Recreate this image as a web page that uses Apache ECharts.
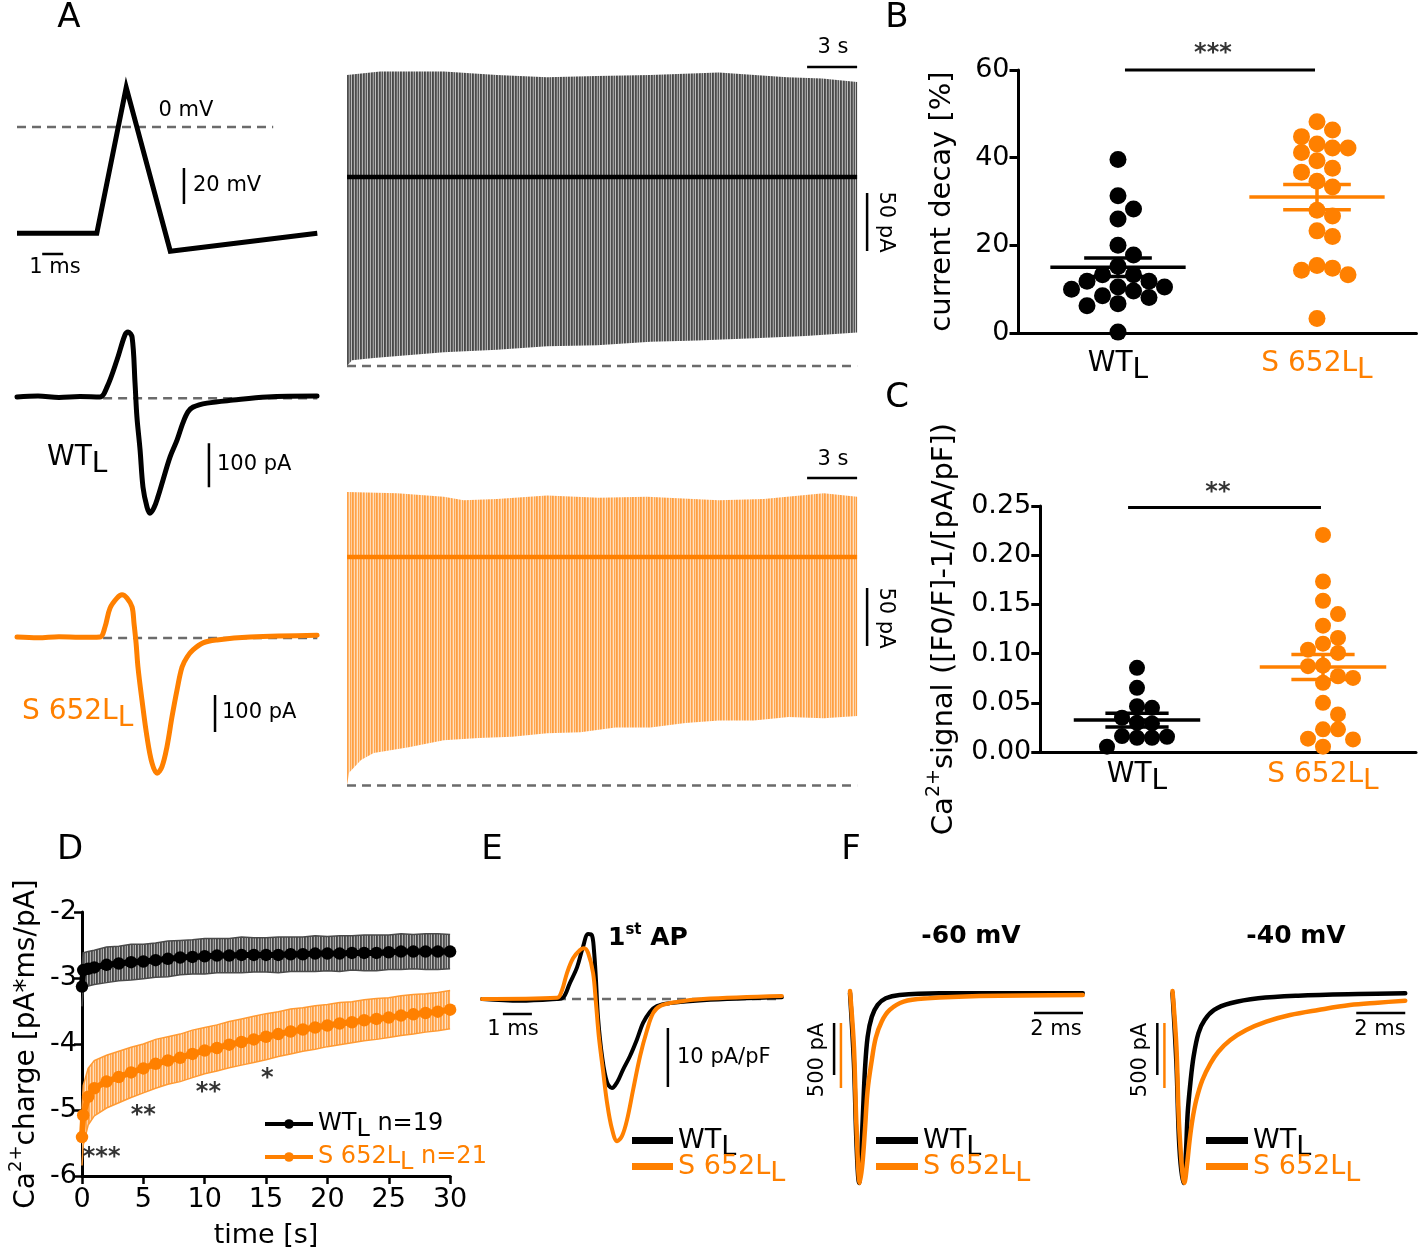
<!DOCTYPE html>
<html><head><meta charset="utf-8">
<script src="https://cdn.jsdelivr.net/npm/echarts@6.0.0/dist/echarts.min.js"></script>
<style>html,body{margin:0;padding:0;background:#fff}#c{width:1418px;height:1254px}</style>
</head><body><div id="c"></div>
<script>
const ORANGE = '#ff8000', BLACK = '#000000', DASH = '#6b6b6b';
const FONT = 'DejaVu Sans';

// ---------- Panel A : AP command (ms, mV) ----------
const apTime = [0, 3.8, 5.2, 7.3, 14.3];
const apVolt = [-59, -59, 22, -69, -59];
const apZeroLine = [[0, 0], [12.2, 0]];
const apScaleBars = [[[7.95, -22.8], [7.95, -42.8]], [[1.2, -70.6], [2.2, -70.6]]];

// ---------- Panel A : single AP currents (ms, pA) ----------
const wtCurTime = [0, 1, 2, 3, 3.95, 4.29, 4.76, 5.14, 5.29, 5.48, 5.62, 5.71, 5.86, 6.0, 6.19, 6.33, 6.52, 6.71, 6.95, 7.29, 7.62, 7.9, 8.14, 8.38, 9.05, 10.29, 11.9, 14.29];
const wtCurVal  = [0, 2, -1, 1, 0, 23, 84, 141, 148, 136, 32, -45, -120, -205, -250, -264, -252, -227, -189, -136, -98, -59, -34, -23, -14, -7, 0, 2];
const sCurTime = [0, 1, 2, 3, 3.95, 4.19, 4.43, 4.76, 5.0, 5.24, 5.48, 5.57, 5.67, 5.76, 5.95, 6.19, 6.43, 6.67, 6.9, 7.14, 7.38, 7.62, 7.86, 8.1, 8.38, 8.86, 9.52, 11.1, 14.29];
const sCurVal  = [0, -2, 1, -1, 0, 27, 78, 105, 114, 105, 81, 38, -16, -81, -170, -270, -341, -368, -351, -297, -216, -143, -81, -54, -35, -16, -8, 0, 5];
const curBaseline = [[4.1, -3], [14.3, -3]];
const wtCurBar = [[9.14, -105], [9.14, -205]];
const sCurBar = [[9.43, -157], [9.43, -257]];

// ---------- Panel A : 30 s trains (s, pA) ----------
const trainSpan = [0, 30.6];
const blackTopT = [0, 2, 5.8, 9, 12, 15, 18.2, 22.3, 26.4, 28.5, 30.6];
const blackTopV = [88, 91, 91, 88, 86, 87, 88, 90, 86, 85, 82];
const blackBotT = [0, 0.3, 1.6, 5.8, 9, 12, 15, 18.2, 21, 24.4, 27.5, 30.6];
const blackBotV = [-163, -158, -156, -151, -149, -146, -145, -142, -141, -139, -137, -134];
const blackPeakLine = -163;
const orangeTopT = [0, 3, 5.8, 7, 9, 12, 15.1, 18, 22.3, 25, 28.6, 30.6];
const orangeTopV = [56, 55, 52, 49, 50, 53, 51, 52, 49, 50, 55, 52];
const orangeBotT = [0, 0.12, 0.84, 1.6, 3.7, 5.8, 7.9, 9.9, 12, 14, 16.1, 18.2, 20.3, 22.3, 24.4, 26.5, 28.6, 30.6];
const orangeBotV = [-197, -186, -175, -169, -164, -158, -156, -155, -152, -151, -147, -147, -143, -141, -141, -138, -139, -137];
const orangePeakLine = -197;
const blackTrainBars = [[[27.6, 94.8], [30.6, 94.8]], [[31.2, -13.8], [31.2, -63.8]]];
const orangeTrainBars = [[[27.6, 68.1], [30.6, 68.1]], [[31.2, -26.7], [31.2, -76.7]]];

// ---------- Panel B : current decay [%] ----------
const groups = ['WT', 'S652L'];
const decayWT = [39.6, 31.3, 28.3, 26.0, 20.0, 17.8, 15.2, 13.3, 13.3, 11.8, 11.8, 10.5, 10.0, 10.5, 8.5, 8.1, 9.6, 6.7, 6.2, 0.2];
const decayS = [48.2, 46.3, 44.8, 43.1, 42.2, 41.2, 42.2, 39.3, 37.6, 36.7, 34.6, 33.3, 28.0, 26.7, 23.3, 22.0, 15.4, 14.3, 14.8, 13.3, 3.3];
const decayMean = [15.0, 31.0];
const decaySem = [2.1, 2.9];
const decaySig = [[1.035, 60], [1.99, 60]];

// ---------- Panel C : Ca2+ signal ----------
const caWT = [0.0855, 0.0652, 0.0449, 0.0466, 0.0297, 0.0348, 0.0290, 0.0162, 0.0145, 0.0145, 0.0155, 0.0054];
const caS = [0.2206, 0.1733, 0.1537, 0.1402, 0.1284, 0.1159, 0.1040, 0.1007, 0.1101, 0.0872, 0.0878, 0.0753, 0.0703, 0.0770, 0.0500, 0.0382, 0.0230, 0.0230, 0.0135, 0.0128, 0.0054];
const caMean = [0.0324, 0.0865];
const caSem = [0.0071, 0.0127];
const caSig = [[0.952, 0.2485], [1.989, 0.2485]];

// ---------- Panel D : Ca2+ charge over time ----------
const dTime = [0, 0.1, 0.5, 1, 2, 3, 4, 5, 6, 7, 8, 9, 10, 11, 12, 13, 14, 15, 16, 17, 18, 19, 20, 21, 22, 23, 24, 25, 26, 27, 28, 29, 30];
const dWTMean = [-3.13, -2.88, -2.86, -2.84, -2.80, -2.78, -2.76, -2.75, -2.73, -2.71, -2.69, -2.68, -2.67, -2.66, -2.66, -2.65, -2.65, -2.65, -2.65, -2.64, -2.64, -2.63, -2.63, -2.63, -2.62, -2.62, -2.62, -2.61, -2.60, -2.60, -2.60, -2.60, -2.60];
const dWTSem  = [0.30, 0.26, 0.26, 0.26, 0.27, 0.26, 0.27, 0.26, 0.26, 0.27, 0.26, 0.26, 0.27, 0.26, 0.26, 0.27, 0.26, 0.26, 0.27, 0.26, 0.26, 0.27, 0.26, 0.27, 0.26, 0.27, 0.27, 0.26, 0.27, 0.26, 0.27, 0.27, 0.26];
const dSMean = [-5.41, -5.08, -4.80, -4.67, -4.57, -4.50, -4.43, -4.37, -4.30, -4.25, -4.21, -4.15, -4.10, -4.06, -4.01, -3.97, -3.93, -3.89, -3.85, -3.81, -3.78, -3.75, -3.72, -3.69, -3.67, -3.64, -3.62, -3.60, -3.57, -3.55, -3.53, -3.51, -3.48];
const dSSem  = [0.43, 0.45, 0.43, 0.42, 0.40, 0.39, 0.38, 0.37, 0.37, 0.36, 0.36, 0.36, 0.35, 0.35, 0.35, 0.35, 0.35, 0.35, 0.34, 0.34, 0.33, 0.33, 0.32, 0.32, 0.31, 0.31, 0.31, 0.30, 0.30, 0.30, 0.29, 0.29, 0.29];
const dStarT = [1.6, 5.0, 10.3, 15.1];
const dStarV = [-5.73, -5.08, -4.74, -4.53];
const dStarText = ['***', '**', '**', '*'];

// ---------- Panel E : 1st AP current density (ms, pA/pF) ----------
const eTimeWT = [0, 1.31, 2.58, 2.79, 3.03, 3.28, 3.48, 3.66, 3.79, 3.86, 3.93, 4.0, 4.14, 4.31, 4.48, 4.66, 4.86, 5.1, 5.34, 5.55, 5.79, 6.03, 6.48, 7.62, 10.34];
const eCurWT  = [0, -0.3, 0, 0.2, 2.7, 5.4, 8.8, 11.0, 10.8, 8.3, 3.2, -3.1, -9.7, -14.1, -15.1, -14.1, -12.0, -9.7, -6.9, -4.1, -2.2, -1.2, -0.7, -0.2, 0.3];
const eTimeS = [0, 2.59, 2.76, 2.93, 3.14, 3.38, 3.52, 3.66, 3.83, 3.93, 4.03, 4.17, 4.31, 4.48, 4.66, 4.83, 5.0, 5.21, 5.45, 5.69, 5.9, 6.14, 6.72, 7.62, 10.34];
const eCurS  = [0, 0.2, 1.5, 4.4, 6.9, 8.3, 8.6, 7.8, 4.4, -0.7, -6.4, -12.0, -17.5, -22.0, -24.1, -23.2, -20.5, -15.4, -9.7, -5.3, -2.4, -1.2, -0.5, 0, 0.5];
const eBaseline = [[0, 0], [10.34, 0]];
const eScaleBars = [[[0.72, -2.54], [1.72, -2.54]], [[6.41, -4.9], [6.41, -14.9]]];

// ---------- Panel F : tail currents (ms, pA) ----------
const f60TimeWT = [0, 0.16, 0.27, 0.37, 0.45, 0.53, 0.61, 0.72, 0.89, 1.13, 1.46, 2.02, 3.65, 6.08, 9.5];
const f60CurWT  = [0, -673, -1478, -1827, -1574, -1154, -740, -420, -228, -115, -51, -19, -3, -3, -3];
const f60TimeS = [0, 0.16, 0.27, 0.4, 0.51, 0.61, 0.72, 0.89, 1.05, 1.29, 1.62, 2.19, 3.16, 5.28, 9.5];
const f60CurS  = [31, -398, -1038, -1446, -1292, -1038, -731, -500, -331, -205, -115, -51, -26, -8, 0];
const f40TimeWT = [0, 0.16, 0.28, 0.44, 0.54, 0.62, 0.73, 0.86, 1.06, 1.31, 1.7, 2.36, 3.5, 5.13, 7.58, 9.5];
const f40CurWT  = [0, -676, -1478, -1827, -1574, -1154, -865, -612, -385, -260, -163, -99, -51, -26, -10, -3];
const f40TimeS = [0, 0.16, 0.28, 0.49, 0.6, 0.7, 0.81, 0.97, 1.22, 1.55, 1.87, 2.36, 3.01, 3.83, 4.8, 5.95, 7.24, 8.38, 9.5];
const f40CurS  = [31, -398, -1038, -1446, -1295, -1115, -962, -808, -654, -526, -436, -346, -269, -205, -154, -115, -77, -59, -44];
const f60WTBars = [[[-0.65, -288], [-0.65, -788]], [[7.51, -192], [9.51, -192]]];
const f60SBar = [[-0.37, -215], [-0.37, -715]];
const f40WTBars = [[[-0.62, -288], [-0.62, -788]], [[7.5, -192], [9.5, -192]]];
const f40SBar = [[-0.33, -215], [-0.33, -715]];

// =================== construction ===================
function stripes(cols) {
  const c = document.createElement('canvas'); c.width = cols.length; c.height = 8;
  const g = c.getContext('2d');
  cols.forEach((col, i) => { g.fillStyle = col; g.fillRect(i, 0, 1, 8); });
  return { type: 'pattern', image: c, repeat: 'repeat' };
}
const grayStripes = stripes(['#474747', '#5a5a5a', '#b0b0b0', '#4d4d4d', '#666666', '#9a9a9a', '#535353', '#bcbcbc']);
const orangeStripes = stripes(['#ff9f40', '#ffad5c', '#ffd9b3', '#ffa24a', '#ffb870', '#ffe2c4', '#ffa64f', '#ffcf9e']);

const grids = [], xAxes = [], yAxes = [], series = [];
function panel(x0, xppu, xmin, xmax, y0, yppu, ymin, ymax, xo, yo) {
  const gi = grids.length;
  grids.push({ left: x0 + xmin * xppu, width: (xmax - xmin) * xppu, top: y0 - ymax * yppu, height: (ymax - ymin) * yppu, containLabel: false, outerBoundsMode: 'none' });
  xAxes.push(Object.assign({ type: 'value', gridIndex: gi, min: xmin, max: xmax, show: false }, xo || {}));
  yAxes.push(Object.assign({ type: 'value', gridIndex: gi, min: ymin, max: ymax, show: false }, yo || {}));
  return { xi: xAxes.length - 1, yi: yAxes.length - 1, gi, xppu, yppu };
}
function fPanel(x0, xppu, xmin, xmax, top, height, wt0, wtppu, s0, sppu) {
  const gi = grids.length;
  grids.push({ left: x0 + xmin * xppu, width: (xmax - xmin) * xppu, top, height, containLabel: false, outerBoundsMode: 'none' });
  xAxes.push({ type: 'value', gridIndex: gi, min: xmin, max: xmax, show: false });
  yAxes.push({ type: 'value', gridIndex: gi, min: (wt0 - top - height) / wtppu, max: (wt0 - top) / wtppu, show: false });
  yAxes.push({ type: 'value', gridIndex: gi, min: (s0 - top - height) / sppu, max: (s0 - top) / sppu, show: false });
  const xi = xAxes.length - 1;
  return { wt: { xi, yi: yAxes.length - 2 }, s: { xi, yi: yAxes.length - 1 } };
}
function line(p, data, color, width, extra) {
  return Object.assign({
    type: 'line', xAxisIndex: p.xi, yAxisIndex: p.yi, data, color,
    symbol: 'none', showSymbol: false, clip: false, silent: true, animation: false,
    lineStyle: { color, width }, itemStyle: { color }, z: 3
  }, extra || {});
}
const zip = (xs, ys) => xs.map((x, i) => [x, ys[i]]);
const trace = (p, xs, ys, color, width, name) => line(p, zip(xs, ys), color, width, { name, smooth: 0.35, lineStyle: { color, width, join: 'round', cap: 'round' } });
const dashed = (p, data) => line(p, data, DASH, 2.5, { lineStyle: { color: DASH, width: 2.5, type: [9, 6] }, z: 2 });
const scaleBar = (p, pts, color) => line(p, pts, color || BLACK, 2.5, { z: 4 });

function polySeries(p, topT, topV, botT, botV, fill, edge) {
  return {
    type: 'custom', xAxisIndex: p.xi, yAxisIndex: p.yi, data: [[topT[0], topV[0]]], silent: true, z: 1, animation: false,
    renderItem: (params, api) => {
      const up = topT.map((t, i) => api.coord([t, topV[i]]));
      const dn = botT.map((t, i) => api.coord([t, botV[i]]));
      const children = [{ type: 'polygon', shape: { points: up.concat(dn.slice().reverse()) }, style: { fill: fill } }];
      if (edge) {
        children.push({ type: 'polyline', shape: { points: up }, style: { stroke: edge, lineWidth: 1.5, fill: null } });
        children.push({ type: 'polyline', shape: { points: dn }, style: { stroke: edge, lineWidth: 1.5, fill: null } });
      }
      return { type: 'group', children };
    }
  };
}
function meanSem(p, x, m, s, color) {
  return {
    type: 'custom', xAxisIndex: p.xi, yAxisIndex: p.yi, data: [[x, m, s]], silent: true, z: 5, animation: false,
    itemStyle: { color },
    renderItem: (params, api) => {
      const cx = api.value(0), mv = api.value(1), sv = api.value(2);
      const P = (a, b) => api.coord([a, b]);
      const L = (a, b) => ({ type: 'line', shape: { x1: a[0], y1: a[1], x2: b[0], y2: b[1] }, style: { stroke: color, lineWidth: 3.5 } });
      return { type: 'group', children: [
        L(P(cx - 0.34, mv), P(cx + 0.34, mv)),
        L(P(cx - 0.17, mv + sv), P(cx + 0.17, mv + sv)),
        L(P(cx - 0.17, mv - sv), P(cx + 0.17, mv - sv)),
        L(P(cx, mv - sv), P(cx, mv + sv))
      ] };
    }
  };
}
function swarm(values, center, xppu, yppu, step, minDist) {
  const order = values.map((v, i) => i).sort((a, b) => values[b] - values[a]);
  const placed = [], out = new Array(values.length);
  for (const i of order) {
    const py = values[i] * yppu;
    for (let k = 0; k < 40; k++) {
      const off = k === 0 ? 0 : (k % 2 ? Math.ceil(k / 2) : -Math.ceil(k / 2));
      const px = off * step;
      if (placed.every(q => Math.hypot(q[0] - px, q[1] - py) >= minDist)) {
        placed.push([px, py]); out[i] = [center + px / xppu, values[i]]; break;
      }
    }
  }
  return out;
}
function starSeries(p, pts, texts, pos, dist, size) {
  return {
    type: 'scatter', xAxisIndex: p.xi, yAxisIndex: p.yi, symbolSize: 1, silent: true, animation: false, z: 6,
    itemStyle: { color: 'rgba(0,0,0,0)' },
    data: pts.map((pt, i) => ({ value: pt, label: { formatter: texts[i] } })),
    label: { show: true, position: pos, distance: dist, fontSize: size || 24, fontWeight: 'bold', fontFamily: FONT, color: BLACK, textBorderWidth: 0 }
  };
}

// rich-text helpers (ECharts label style)
function richSet(size, lh) {
  return {
    n: { fontSize: size, fontFamily: FONT, color: BLACK, lineHeight: lh },
    s: { fontSize: size, fontFamily: FONT, color: BLACK, lineHeight: lh, padding: [Math.round(size * 0.5), 0, 0, 0] },
    o: { fontSize: size, fontFamily: FONT, color: ORANGE, lineHeight: lh },
    os: { fontSize: size, fontFamily: FONT, color: ORANGE, lineHeight: lh, padding: [Math.round(size * 0.5), 0, 0, 0] },
    sup: { fontSize: Math.round(size * 0.65), fontFamily: FONT, color: BLACK, lineHeight: lh, padding: [0, 0, Math.round(size * 0.7), 0] }
  };
}
const wtLabel = '{n|' + 'WT' + '}{s|L}';
const sLabel = '{o|S 652L}{os|L}';

const axisBase = (extra) => Object.assign({
  show: true,
  axisLine: { show: true, onZero: false, lineStyle: { color: BLACK, width: 3 } },
  splitLine: { show: false },
  nameMoveOverlap: false
}, extra);

// ---------- panels ----------
const pAP = panel(17, 21, 0, 14.3, 127, 1.8, -80, 30);
const pWT = panel(17, 21, 0, 14.3, 397, 0.44, -300, 200);
const pS = panel(17, 21, 0, 14.3, 637, 0.37, -400, 150);
const pLB = panel(347, 16.67, 0, 32, 177, 1.16, -180, 110);
const pLO = panel(347, 16.67, 0, 32, 557, 1.16, -210, 100);

const catFmt = v => (v === 1 ? wtLabel : v === 2 ? sLabel : '');
const pB = panel(919, 199, 0.5, 2.5, 333, 263 / 60, 0, 60,
  axisBase({ axisTick: { show: false }, axisLabel: { customValues: [1, 2], margin: 16, formatter: catFmt, rich: richSet(28, 30) } }),
  axisBase({ interval: 20, axisTick: { show: true, length: 9, lineStyle: { color: BLACK, width: 3 } },
    axisLabel: { fontSize: 27, fontFamily: FONT, color: BLACK, margin: 9 },
    name: 'current decay [%]', nameLocation: 'middle', nameGap: 62, nameTextStyle: { fontSize: 29, fontFamily: FONT, color: BLACK } }));
const pC = panel(951, 186, 0.48, 2.5, 752, 984, 0, 0.25,
  axisBase({ axisTick: { show: false }, axisLabel: { customValues: [1, 2], margin: 8, formatter: catFmt, rich: richSet(28, 30) } }),
  axisBase({ interval: 0.05, axisTick: { show: true, length: 9, lineStyle: { color: BLACK, width: 3 } },
    axisLabel: { fontSize: 27, fontFamily: FONT, color: BLACK, margin: 9, formatter: v => v.toFixed(2) },
    name: '{n|Ca}{sup|2+}{n|signal ([F0/F]-1/[pA/pF])}', nameLocation: 'middle', nameGap: 80,
    nameTextStyle: { fontSize: 29, fontFamily: FONT, color: BLACK, rich: richSet(29, 32) } }));
const pD = panel(82, 12.27, 0, 30, 780, 66, -6, -2,
  axisBase({ interval: 5, axisTick: { show: true, length: 8, lineStyle: { color: BLACK, width: 2.5 } },
    axisLabel: { fontSize: 27, fontFamily: FONT, color: BLACK, margin: 10 },
    name: 'time [s]', nameLocation: 'middle', nameGap: 46, nameTextStyle: { fontSize: 27, fontFamily: FONT, color: BLACK } }),
  axisBase({ interval: 1, axisTick: { show: true, length: 8, lineStyle: { color: BLACK, width: 2.5 } },
    axisLabel: { fontSize: 27, fontFamily: FONT, color: BLACK, margin: 5 },
    name: '{n|Ca}{sup|2+}{n|charge [pA*ms/pA]}', nameLocation: 'middle', nameGap: 40,
    nameTextStyle: { fontSize: 28, fontFamily: FONT, color: BLACK, rich: richSet(28, 31) } }));
const pE = panel(482, 29, 0, 10.5, 999, 5.9, -28, 14);
const pF1 = fPanel(850, 24.5, -1.5, 10, 960, 240, 993, 0.104, 995, 0.13);
const pF2 = fPanel(1172.5, 24.5, -1.5, 10, 960, 240, 993, 0.104, 995, 0.13);

// ---------- series ----------
// A: AP
series.push(dashed(pAP, apZeroLine));
series.push(line(pAP, zip(apTime, apVolt), BLACK, 5, { lineStyle: { color: BLACK, width: 5, join: 'miter' } }));
apScaleBars.forEach(b => series.push(scaleBar(pAP, b)));
// A: single currents
series.push(dashed(pWT, curBaseline));
series.push(trace(pWT, wtCurTime, wtCurVal, BLACK, 5));
series.push(scaleBar(pWT, wtCurBar));
series.push(dashed(pS, curBaseline));
series.push(trace(pS, sCurTime, sCurVal, ORANGE, 5));
series.push(scaleBar(pS, sCurBar));
// A: trains
series.push(polySeries(pLB, blackTopT, blackTopV, blackBotT, blackBotV, grayStripes));
series.push(line(pLB, trainSpan.map(t => [t, 0]), BLACK, 4.5));
series.push(dashed(pLB, trainSpan.map(t => [t, blackPeakLine])));
blackTrainBars.forEach(b => series.push(scaleBar(pLB, b)));
series.push(polySeries(pLO, orangeTopT, orangeTopV, orangeBotT, orangeBotV, orangeStripes));
series.push(line(pLO, trainSpan.map(t => [t, 0]), ORANGE, 4.5));
series.push(dashed(pLO, trainSpan.map(t => [t, orangePeakLine])));
orangeTrainBars.forEach(b => series.push(scaleBar(pLO, b)));

// B
const bX = pB.xppu, bY = pB.yppu;
series.push({ type: 'scatter', xAxisIndex: pB.xi, yAxisIndex: pB.yi, symbolSize: 17, itemStyle: { color: BLACK, opacity: 1 }, silent: true, animation: false, z: 4,
  data: swarm(decayWT, 1, bX, bY, 15.5, 15) });
series.push({ type: 'scatter', xAxisIndex: pB.xi, yAxisIndex: pB.yi, symbolSize: 17, itemStyle: { color: ORANGE, opacity: 1 }, silent: true, animation: false, z: 4,
  data: swarm(decayS, 2, bX, bY, 15.5, 15) });
series.push(meanSem(pB, 1, decayMean[0], decaySem[0], BLACK));
series.push(meanSem(pB, 2, decayMean[1], decaySem[1], ORANGE));
series.push(line(pB, decaySig, BLACK, 3));
series.push(starSeries(pB, [[1.477, 60]], ['***'], 'top', 4));

// C
series.push({ type: 'scatter', xAxisIndex: pC.xi, yAxisIndex: pC.yi, symbolSize: 16, itemStyle: { color: BLACK, opacity: 1 }, silent: true, animation: false, z: 4,
  data: swarm(caWT, 1, pC.xppu, pC.yppu, 15, 14) });
series.push({ type: 'scatter', xAxisIndex: pC.xi, yAxisIndex: pC.yi, symbolSize: 16, itemStyle: { color: ORANGE, opacity: 1 }, silent: true, animation: false, z: 4,
  data: swarm(caS, 2, pC.xppu, pC.yppu, 15, 14) });
series.push(meanSem(pC, 1, caMean[0], caSem[0], BLACK));
series.push(meanSem(pC, 2, caMean[1], caSem[1], ORANGE));
series.push(line(pC, caSig, BLACK, 3));
series.push(starSeries(pC, [[1.435, 0.2485]], ['**'], 'top', 2));

// D
const up = (m, s) => m.map((v, i) => v + s[i]);
const lo = (m, s) => m.map((v, i) => v - s[i]);
series.push(polySeries(pD, dTime, up(dWTMean, dWTSem), dTime, lo(dWTMean, dWTSem), grayStripes, '#4a4a4a'));
series.push(polySeries(pD, dTime, up(dSMean, dSSem), dTime, lo(dSMean, dSSem), orangeStripes, '#ff9a33'));
series.push(line(pD, zip(dTime, dWTMean), BLACK, 6, { name: 'dWT', symbol: 'circle', symbolSize: 12.5, showSymbol: true, z: 4 }));
series.push(line(pD, zip(dTime, dSMean), ORANGE, 6, { name: 'dS', symbol: 'circle', symbolSize: 12.5, showSymbol: true, z: 4 }));
series.push(starSeries(pD, zip(dStarT, dStarV), dStarText, 'inside', 0));

// E
series.push(dashed(pE, eBaseline));
series.push(trace(pE, eTimeWT, eCurWT, BLACK, 4, 'eWT'));
series.push(trace(pE, eTimeS, eCurS, ORANGE, 4, 'eS'));
eScaleBars.forEach(b => series.push(scaleBar(pE, b)));

// F
series.push(trace(pF1.wt, f60TimeWT, f60CurWT, BLACK, 4.5, 'f60WT'));
series.push(trace(pF1.s, f60TimeS, f60CurS, ORANGE, 4.5, 'f60S'));
f60WTBars.forEach(b => series.push(scaleBar(pF1.wt, b)));
series.push(scaleBar(pF1.s, f60SBar, ORANGE));
series.push(trace(pF2.wt, f40TimeWT, f40CurWT, BLACK, 4.5, 'f40WT'));
series.push(trace(pF2.s, f40TimeS, f40CurS, ORANGE, 4.5, 'f40S'));
f40WTBars.forEach(b => series.push(scaleBar(pF2.wt, b)));
series.push(scaleBar(pF2.s, f40SBar, ORANGE));

// ---------- legends ----------
const legendText = {
  dWT: '{n|WT}{s|L}{n| n=19}', dS: '{o|S 652L}{os|L}{o| n=21}',
  eWT: wtLabel, eS: sLabel, f60WT: wtLabel, f60S: sLabel, f40WT: wtLabel, f40S: sLabel
};
const lg = (names, left, top, size, gap, extra) => Object.assign({
  orient: 'vertical', left, top, itemGap: gap, selectedMode: false, padding: 0,
  data: [{ name: names[0], textStyle: { color: BLACK } }, { name: names[1], textStyle: { color: ORANGE } }],
  formatter: n => legendText[n],
  textStyle: { fontSize: size, fontFamily: FONT, lineHeight: 26, rich: richSet(size, 26) }
}, extra);
const legends = [
  lg(['dWT', 'dS'], 263, 1106, 24, -3, { itemWidth: 48, itemHeight: 12, lineStyle: { width: 4 } }),
  lg(['eWT', 'eS'], 632, 1120, 27, -15, { icon: 'rect', itemWidth: 41, itemHeight: 7 }),
  lg(['f60WT', 'f60S'], 876, 1120, 27, -15, { icon: 'rect', itemWidth: 42, itemHeight: 7 }),
  lg(['f40WT', 'f40S'], 1206, 1120, 27, -15, { icon: 'rect', itemWidth: 42, itemHeight: 7 })
];

// ---------- free text ----------
function T(x, y, text, o) {
  o = o || {};
  const st = { text, fontFamily: FONT, fontSize: o.size || 21, fill: o.color || BLACK, align: o.align || 'center', verticalAlign: 'middle', fontWeight: o.bold ? 'bold' : 'normal' };
  if (o.rich) { st.rich = o.rich; st.lineHeight = o.lh; }
  return { type: 'text', x, y, rotation: o.rot || 0, z: 100, silent: true, style: st };
}
function zr(size, lh, color, bold) {
  const base = { fontFamily: FONT, fontSize: size, fill: color, lineHeight: lh, fontWeight: bold ? 'bold' : 'normal' };
  return {
    n: Object.assign({}, base),
    s: Object.assign({}, base, { padding: [Math.round(size * 0.5), 0, 0, 0] }),
    sup: Object.assign({}, base, { fontSize: Math.round(size * 0.6), padding: [0, 0, Math.round(size * 0.65), 0] })
  };
}
const texts = [
  T(69, 18, 'A', { size: 34 }), T(897, 18, 'B', { size: 34 }), T(897, 398, 'C', { size: 34 }),
  T(70, 850, 'D', { size: 34 }), T(492, 850, 'E', { size: 34 }), T(851, 850, 'F', { size: 34 }),
  T(186, 111, '0 mV'), T(193, 186, '20 mV', { align: 'left' }), T(55, 268, '1 ms'),
  T(47, 458, '{n|WT}{s|L}', { size: 28, align: 'left', rich: zr(28, 30, BLACK), lh: 30 }),
  T(22, 712, '{n|S 652L}{s|L}', { size: 28, align: 'left', color: ORANGE, rich: zr(28, 30, ORANGE), lh: 30 }),
  T(217, 465, '100 pA', { align: 'left' }), T(222, 713, '100 pA', { align: 'left' }),
  T(833, 48, '3 s'), T(833, 460, '3 s'),
  T(885, 222, '50 pA', { rot: -Math.PI / 2 }), T(885, 618, '50 pA', { rot: -Math.PI / 2 }),
  T(513, 1030, '1 ms'), T(677, 1058, '10 pA/pF', { align: 'left' }),
  T(608, 938, '{n|1}{sup|st}{n| AP}', { size: 25, align: 'left', bold: true, rich: zr(25, 28, BLACK, true), lh: 28 }),
  T(971, 936, '-60 mV', { size: 25, bold: true }), T(1296, 936, '-40 mV', { size: 25, bold: true }),
  T(1056, 1030, '2 ms'), T(1380, 1030, '2 ms'),
  T(818, 1060, '500 pA', { rot: Math.PI / 2 }), T(1141, 1060, '500 pA', { rot: Math.PI / 2 })
];

const chart = echarts.init(document.getElementById('c'), null, { renderer: 'canvas' });
chart.setOption({
  backgroundColor: '#ffffff',
  animation: false,
  textStyle: { fontFamily: FONT },
  grid: grids, xAxis: xAxes, yAxis: yAxes,
  legend: legends,
  series: series,
  graphic: texts
});
</script></body></html>
